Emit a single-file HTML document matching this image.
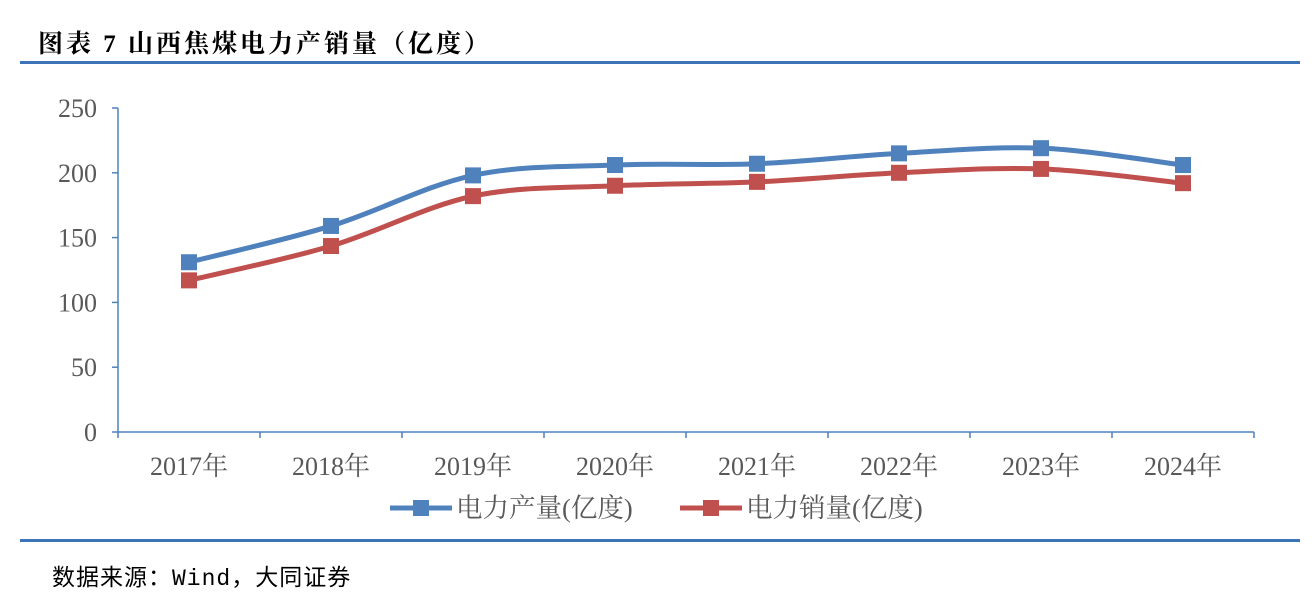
<!DOCTYPE html>
<html><head><meta charset="utf-8">
<style>
body{margin:0;background:#fff;width:1316px;height:598px;overflow:hidden;position:relative;font-family:"Liberation Serif","Noto Serif CJK SC",serif;}
.title{position:absolute;left:38px;top:24px;font-size:25px;font-weight:bold;letter-spacing:3px;color:#000;white-space:nowrap;}
.rule{position:absolute;left:20px;width:1280px;height:3px;background:#3d73b9;}
.src{position:absolute;left:52px;top:558px;font-size:23px;letter-spacing:1px;color:#000;white-space:nowrap;font-family:"Liberation Mono","Noto Sans CJK SC",monospace;}
</style></head><body>
<div class="title">图表 7 山西焦煤电力产销量（亿度）</div>
<div class="rule" style="top:61px"></div>
<div class="rule" style="top:539px"></div>
<div class="src">数据来源：Wind，大同证券</div>
<svg id="chart" width="1316" height="598" style="position:absolute;left:0;top:0"></svg>
<script>
const categories=["2017年","2018年","2019年","2020年","2021年","2022年","2023年","2024年"];
const production=[131,159,198,206,207,215,219,206];
const sales=[117,143.5,182,190,193,200,203,192];
const yTicks=[0,50,100,150,200,250];
const seriesNames=["电力产量(亿度)","电力销量(亿度)"];
const colors=["#4f81bd","#c0504d"];
const NS="http://www.w3.org/2000/svg";
const svg=document.getElementById('chart');
const x0=118,x1=1254,y0=432,yTop=108,yMax=250;
const cw=(x1-x0)/categories.length;
const xS=i=>x0+cw*(i+0.5);
const yS=v=>y0-(v/yMax)*(y0-yTop);
function mk(t,a){const e=document.createElementNS(NS,t);for(const k in a)e.setAttribute(k,a[k]);svg.appendChild(e);return e;}
let e=mk('line',{x1:x0,y1:yTop,x2:x0,y2:y0,stroke:'#4f81bd','stroke-width':1.5});


e=mk('line',{x1:x0,y1:y0,x2:x1,y2:y0,stroke:'#4f81bd','stroke-width':1.5});


yTicks.forEach(v=>{
  const y=yS(v);
  mk('line',{x1:x0-6,y1:y,x2:x0,y2:y,stroke:'#4f81bd','stroke-width':1.5});
  const t=mk('text',{x:x0-21,y:y+9,'text-anchor':'end','font-size':26,fill:'#595959','font-family':'Liberation Serif, serif'});
  t.textContent=v;
  
  
});
for(let i=0;i<=categories.length;i++){
  mk('line',{x1:x0+cw*i,y1:y0,x2:x0+cw*i,y2:y0+6,stroke:'#4f81bd','stroke-width':1.5});
}
categories.forEach((c,i)=>{
  const t=mk('text',{x:xS(i),y:475,'text-anchor':'middle','font-size':26,fill:'#595959','font-family':'Liberation Serif, Noto Serif CJK SC, serif'});
  t.textContent=c;
  
  
});
function smooth(pts){
  let d=`M${pts[0][0]},${pts[0][1]}`;
  for(let i=0;i<pts.length-1;i++){
    const p0=pts[i-1]||pts[i],p1=pts[i],p2=pts[i+1],p3=pts[i+2]||p2;
    const t=1/6;
    d+=` C${p1[0]+(p2[0]-p0[0])*t},${p1[1]+(p2[1]-p0[1])*t} ${p2[0]-(p3[0]-p1[0])*t},${p2[1]-(p3[1]-p1[1])*t} ${p2[0]},${p2[1]}`;
  }
  return d;
}
[production,sales].forEach((s,k)=>{
  const pts=s.map((v,i)=>[xS(i),yS(v)]);
  const p=mk('path',{d:smooth(pts),fill:'none',stroke:colors[k],'stroke-width':5,'stroke-linejoin':'round'});
  
  
  pts.forEach(q=>{
    const r=mk('rect',{x:q[0]-8,y:q[1]-8,width:16,height:16,fill:colors[k]});
    
    
  });
});
const lx=[390,680];
seriesNames.forEach((n,k)=>{
  const g=mk('g',{});
  
  
  const l=document.createElementNS(NS,'line');
  [['x1',lx[k]],['y1',508],['x2',lx[k]+62],['y2',508],['stroke',colors[k]],['stroke-width',5]].forEach(a=>l.setAttribute(a[0],a[1]));
  g.appendChild(l);
  const r=document.createElementNS(NS,'rect');
  [['x',lx[k]+23],['y',500],['width',16],['height',16],['fill',colors[k]]].forEach(a=>r.setAttribute(a[0],a[1]));
  g.appendChild(r);
  const t=document.createElementNS(NS,'text');
  [['x',lx[k]+66],['y',517],['font-size',26.5],['fill','#595959'],['font-family','Liberation Serif, Noto Serif CJK SC, serif']].forEach(a=>t.setAttribute(a[0],a[1]));
  t.textContent=n;
  g.appendChild(t);
});
</script>
</body></html>
